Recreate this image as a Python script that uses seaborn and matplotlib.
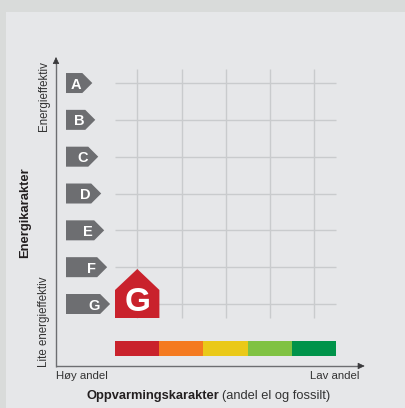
import matplotlib
matplotlib.use("Agg")
import matplotlib.pyplot as plt
import seaborn as sns
from matplotlib.patches import Polygon, Rectangle

sns.set_theme(style="white")
plt.rcParams['font.family'] = ['Liberation Sans', 'DejaVu Sans']

# Data
energy_labels = ["A", "B", "C", "D", "E", "F", "G"]
energy_ranks = [7, 6, 5, 4, 3, 2, 1]
heating_columns = [1, 2, 3, 4, 5]
heating_colors = ["#c9222c", "#f47a20", "#eac918", "#80c242", "#00934a"]
strip_height = [0.41, 0.41, 0.41, 0.41, 0.41]
current_energy = "G"
current_column = 1

BG_OUT = "#d9dbda"
BG_IN = "#e6e7e9"
GRID = "#c9cbcd"
GREY = "#6d6e71"
TXT = "#333333"

W, H = 406, 408
fig = plt.figure(figsize=(W / 100, H / 100), dpi=100, facecolor=BG_OUT)
ax = fig.add_axes([0, 0, 1, 1])

# Pixel helpers: the axes fill the figure; columns/ranks map to the grid
STEP_X, STEP_Y = 44.2, 36.83
X0 = 137.3
xlim = (1 - X0 / STEP_X, 1 + (W - X0) / STEP_X)
ylim = (1 - (H - 304) / STEP_Y, 1 + 304 / STEP_Y)
def X(px): return xlim[0] + px / STEP_X
def Y(py): return ylim[1] - py / STEP_Y

ax.add_patch(Rectangle((X(6), Y(H)), X(W) - X(6), Y(12) - Y(H), fc=BG_IN, ec="none", zorder=0))

# Colour strip
sns.barplot(x=heating_columns, y=strip_height, hue=heating_columns, palette=heating_colors,
            native_scale=True, width=1.01, dodge=False, legend=False,
            bottom=Y(356), linewidth=0, saturation=1, ax=ax, zorder=3)

# Grid
ax.vlines(heating_columns, Y(318), Y(69), color=GRID, lw=1.0, zorder=1)
ax.hlines(energy_ranks, X(115), X(336.3), color=GRID, lw=1.0, zorder=1)

# Energy label arrows
for i, (lab, rank) in enumerate(zip(energy_labels, energy_ranks)):
    tip = 92.3 + 2.97 * i
    pts = [(66, -10), (tip - 10, -10), (tip, 0), (tip - 10, 10), (66, 10)]
    yc = 304 - (rank - 1) * STEP_Y
    ax.add_patch(Polygon([(X(px), Y(yc + dy)) for px, dy in pts], fc=GREY, ec="none", zorder=2))
    ax.text(X(tip - 16), rank, lab, color="white", fontsize=10.5, fontweight="bold",
            ha="center", va="center_baseline", zorder=3)

# Current rating house
house = [(X(115), Y(318)), (X(115), Y(290)), (current_column, Y(269)),
         (X(159.4), Y(290)), (X(159.4), Y(318))]
ax.add_patch(Polygon(house, fc="#c9222c", ec="none", zorder=4))
ax.text(current_column, Y(298.7), current_energy, color="white", fontsize=24, fontweight="bold",
        ha="center", va="center_baseline", zorder=5)

# Axes arrows
ax.plot([X(56), X(360)], [Y(366), Y(366)], color=GREY, lw=1.0, zorder=6, solid_capstyle="butt")
ax.plot([X(56), X(56)], [Y(366.5), Y(62)], color=GREY, lw=1.0, zorder=6, solid_capstyle="butt")
arrow = dict(arrowstyle="-|>,head_length=0.42,head_width=0.2", color="#3a3a3c", lw=0.5,
             shrinkA=0, shrinkB=0, mutation_scale=10)
ax.annotate("", xy=(X(364.7), Y(366)), xytext=(X(358), Y(366)), arrowprops=arrow, zorder=7)
ax.annotate("", xy=(X(56), Y(57)), xytext=(X(56), Y(64)), arrowprops=arrow, zorder=7)

# Text
ax.text(X(44), Y(96), "Energieffektiv", rotation=90, fontsize=8.3, color=TXT, ha="center", va="center")
ax.text(X(44), Y(321.5), "Lite energieffektiv", rotation=90, fontsize=8.3, color=TXT, ha="center", va="center")
ax.text(X(25.5), Y(213), "Energikarakter", rotation=90, fontsize=9.4, fontweight="bold", color="#231f20",
        ha="center", va="center")
ax.text(X(81.5), Y(376), "Høy andel", fontsize=8.2, color=TXT, ha="center", va="center")
ax.text(X(335), Y(376), "Lav andel", fontsize=8.2, color=TXT, ha="center", va="center")
ax.text(X(219), Y(396), "Oppvarmingskarakter", fontsize=9.3, fontweight="bold", color="#231f20",
        ha="right", va="center")
ax.text(X(222), Y(396), "(andel el og fossilt)", fontsize=9.3, color=TXT, ha="left", va="center")

ax.set_xlim(*xlim)
ax.set_ylim(*ylim)
ax.set_xlabel("")
ax.set_ylabel("")
ax.axis("off")
fig.savefig("out.png", dpi=100, facecolor=BG_OUT)
